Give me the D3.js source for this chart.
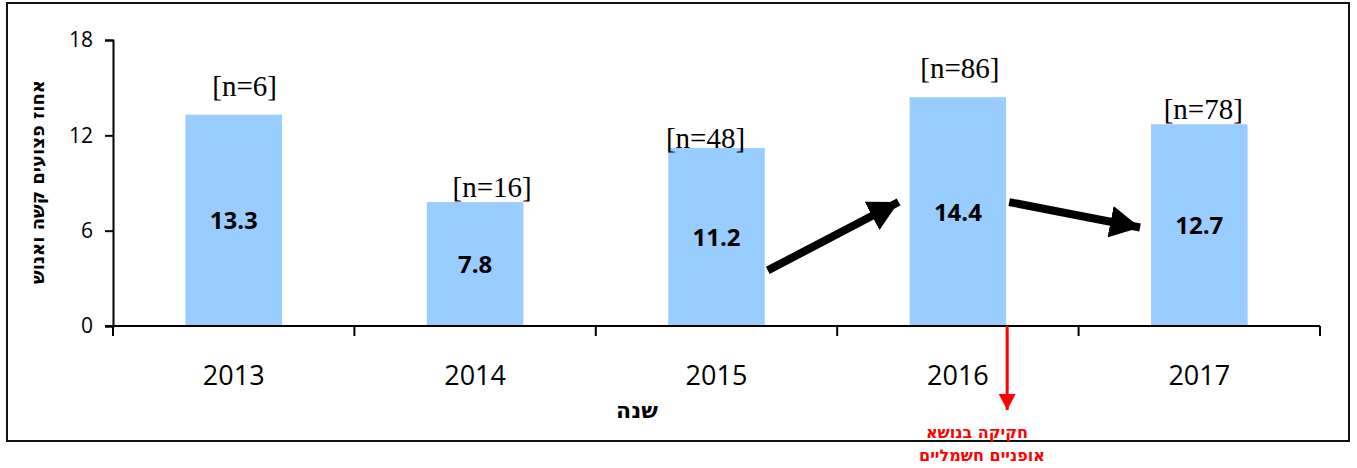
<!DOCTYPE html>
<html>
<head>
<meta charset="utf-8">
<script src="https://cdn.jsdelivr.net/npm/d3@7"></script>
<style>
  body { margin: 0; background: #fff; }
  svg { display: block; }
</style>
</head>
<body>
<div id="chart"></div>
<script>
// data
var years = ["2013", "2014", "2015", "2016", "2017"];
var values = [13.3, 7.8, 11.2, 14.4, 12.7];
var nLabels = ["[n=6]", "[n=16]", "[n=48]", "[n=86]", "[n=78]"];
var yTicks = [0, 6, 12, 18];

// hand placed text boxes in the original (pixels from bar top / bar centre)
var nLift = [19, 5, 0, 19, 5];
var nShift = [11, 17, -11, 2, 4];

// trend arrows between bars (values on the y scale)
var trendArrows = [
  { from: "2015", to: "2016", v0: 3.5, v1: 7.8 },
  { from: "2016", to: "2017", v0: 7.8, v1: 6.2 }
];

var W = 1357, H = 468;
var plotLeft = 113, plotRight = 1320, plotTop = 40, plotBottom = 326;
var hebFont = "'DejaVu Sans', 'Noto Sans', sans-serif";

var svg = d3.select("#chart")
  .append("svg")
    .attr("width", W)
    .attr("height", H);

svg.append("defs").append("marker")
    .attr("id", "redhead")
    .attr("markerUnits", "userSpaceOnUse")
    .attr("viewBox", "0 0 16 17")
    .attr("refX", 16).attr("refY", 8.5)
    .attr("markerWidth", 17).attr("markerHeight", 17)
    .attr("orient", "auto")
  .append("path")
    .attr("d", "M0,0L16,8.5L0,17Z")
    .attr("fill", "#ff0000");

svg.select("defs").append("marker")
    .attr("id", "blackhead")
    .attr("markerUnits", "userSpaceOnUse")
    .attr("viewBox", "0 0 30 32")
    .attr("refX", 30).attr("refY", 16)
    .attr("markerWidth", 30).attr("markerHeight", 32)
    .attr("orient", "auto")
  .append("path")
    .attr("d", "M0,0L30,16L0,32Z")
    .attr("fill", "#000");

// outer frame
svg.append("rect")
  .attr("x", 7).attr("y", 3)
  .attr("width", 1342).attr("height", 438)
  .attr("fill", "none")
  .attr("stroke", "#111")
  .attr("stroke-width", 2);

var x = d3.scaleBand()
  .domain(years)
  .range([plotLeft, plotRight])
  .paddingInner(0.6)
  .paddingOuter(0.3);

var y = d3.scaleLinear()
  .domain([0, 18])
  .range([plotBottom, plotTop]);

var step = x.step();

// bars
svg.append("g")
  .selectAll("rect")
  .data(values)
  .enter()
  .append("rect")
    .attr("x", function(d, i){ return x(years[i]); })
    .attr("y", function(d){ return y(d); })
    .attr("width", x.bandwidth())
    .attr("height", function(d){ return y(0) - y(d); })
    .attr("fill", "#99ccff");

// values inside bars
svg.append("g")
  .selectAll("text")
  .data(values)
  .enter()
  .append("text")
    .attr("x", function(d, i){ return x(years[i]) + x.bandwidth() / 2; })
    .attr("y", function(d){ return (y(d) + y(0)) / 2 + 9; })
    .attr("text-anchor", "middle")
    .style("font-family", "'Open Sans', sans-serif")
    .style("font-weight", "bold")
    .style("font-size", "24px")
    .text(function(d){ return d.toFixed(1); });

// n labels
svg.append("g")
  .selectAll("text")
  .data(nLabels)
  .enter()
  .append("text")
    .attr("x", function(d, i){ return x(years[i]) + x.bandwidth() / 2 + nShift[i]; })
    .attr("y", function(d, i){ return y(values[i]) - nLift[i]; })
    .attr("text-anchor", "middle")
    .style("font-family", "'Liberation Serif', 'Times New Roman', serif")
    .style("font-size", "29px")
    .text(function(d){ return d; });

// y axis
var yAxis = svg.append("g")
  .attr("transform", "translate(" + plotLeft + ",0)")
  .call(d3.axisLeft(y).tickValues(yTicks).tickSize(8).tickSizeOuter(8).tickPadding(12));
yAxis.select(".domain").attr("stroke", "#000").attr("stroke-width", 2);
yAxis.selectAll(".tick line").attr("stroke", "#000").attr("stroke-width", 2);
yAxis.selectAll(".tick text")
  .style("font-family", "'Open Sans', sans-serif")
  .style("font-size", "21px")
  .attr("fill", "#000");

// x axis: baseline, boundary ticks, year labels
var xg = svg.append("g");
xg.append("line")
  .attr("x1", plotLeft - 8).attr("x2", plotRight)
  .attr("y1", y(0)).attr("y2", y(0))
  .attr("stroke", "#000").attr("stroke-width", 2);
xg.selectAll(".bt")
  .data(d3.range(years.length + 1))
  .enter()
  .append("line")
    .attr("x1", function(i){ return plotLeft + i * step; })
    .attr("x2", function(i){ return plotLeft + i * step; })
    .attr("y1", y(0)).attr("y2", y(0) + 10)
    .attr("stroke", "#000").attr("stroke-width", 2);
xg.selectAll(".yl")
  .data(years)
  .enter()
  .append("text")
    .attr("x", function(d){ return x(d) + x.bandwidth() / 2; })
    .attr("y", 385)
    .attr("text-anchor", "middle")
    .style("font-family", "'Open Sans', sans-serif")
    .style("font-size", "27px")
    .text(function(d){ return d; });

// axis titles
svg.append("text")
  .attr("x", 637).attr("y", 418)
  .attr("text-anchor", "middle")
  .style("font-family", hebFont)
  .style("font-weight", "bold")
  .style("font-size", "22px")
  .text("שנה");

svg.append("text")
  .attr("transform", "translate(44,182) rotate(-90)")
  .attr("text-anchor", "middle")
  .style("font-family", hebFont)
  .style("font-weight", "bold")
  .style("font-size", "18px")
  .text("אחוז פצועים קשה ואנוש");

// trend arrows
svg.append("g")
  .selectAll("line")
  .data(trendArrows)
  .enter()
  .append("line")
    .attr("x1", function(d){ return x(d.from) + x.bandwidth() + 3; })
    .attr("y1", function(d){ return y(d.v0); })
    .attr("x2", function(d){ return x(d.to) - 11; })
    .attr("y2", function(d){ return y(d.v1); })
    .attr("stroke", "#000")
    .attr("stroke-width", 8)
    .attr("marker-end", "url(#blackhead)");

// legislation marker under 2016
var lawX = x("2016") + x.bandwidth() + 1;
svg.append("line")
  .attr("x1", lawX).attr("x2", lawX)
  .attr("y1", y(0)).attr("y2", 410)
  .attr("stroke", "#ff0000")
  .attr("stroke-width", 3)
  .attr("marker-end", "url(#redhead)");

var lawText = svg.append("g")
  .style("font-family", hebFont)
  .style("font-weight", "bold")
  .style("font-size", "16px")
  .attr("fill", "#ff0000")
  .attr("text-anchor", "middle");
lawText.append("text").attr("x", 977).attr("y", 438).text("חקיקה בנושא");
lawText.append("text").attr("x", 982).attr("y", 461).text("אופניים חשמליים");
</script>
</body>
</html>
